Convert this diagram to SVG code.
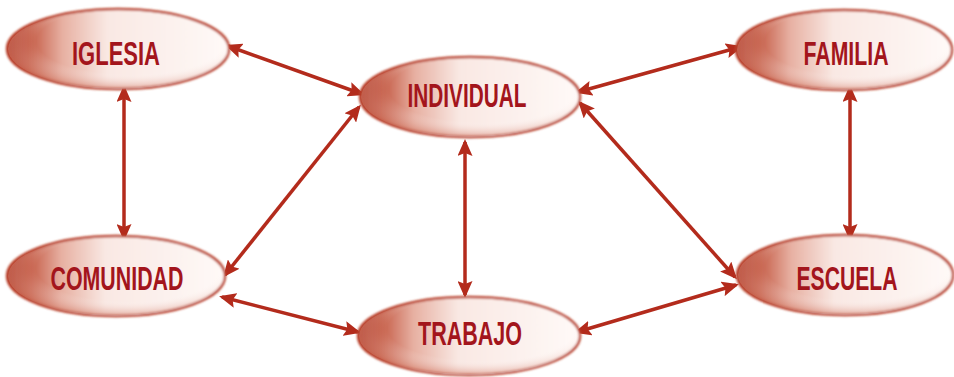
<svg xmlns="http://www.w3.org/2000/svg" width="954" height="377" viewBox="0 0 954 377">
  <defs>
    <linearGradient id="fillG" x1="0" y1="0" x2="1" y2="0">
      <stop offset="0" stop-color="#ad3320"/>
      <stop offset="0.1" stop-color="#c45a44"/>
      <stop offset="0.25" stop-color="#e7b0a2"/>
      <stop offset="0.45" stop-color="#f9e8e3"/>
      <stop offset="1" stop-color="#fffaf8"/>
    </linearGradient>
    <radialGradient id="shadeG" cx="0.55" cy="0.4" r="0.6">
      <stop offset="0.7" stop-color="#ffffff" stop-opacity="0"/>
      <stop offset="1" stop-color="#d27a66" stop-opacity="0.5"/>
    </radialGradient>
    <filter id="soft" x="-5%" y="-10%" width="110%" height="120%">
      <feGaussianBlur stdDeviation="0.8"/>
    </filter>
    <marker id="ah" viewBox="0 0 17 15" markerWidth="17" markerHeight="15" refX="14" refY="7.5" orient="auto-start-reverse" markerUnits="userSpaceOnUse">
      <path d="M0,0 L17,7.5 L0,15 L3,7.5 z" fill="#b32b1c"/>
    </marker>
  </defs>
  <style>
    .oval { fill: url(#fillG); stroke: #b9412c; stroke-width: 2.5; filter: url(#soft); }
    .shade { fill: url(#shadeG); stroke: none; }
    .lbl { font-family: "Liberation Sans", Arial, sans-serif; font-weight: bold; font-size: 33px; fill: #a3151c; text-anchor: middle; }
    .con { stroke: #b32b1c; stroke-width: 3.5; fill: none; marker-start: url(#ah); marker-end: url(#ah); }
  </style>
  <rect width="954" height="377" fill="#ffffff"/>

  <g id="connectors">
    <line class="con" x1="228" y1="46" x2="362" y2="94"/>
    <line class="con" x1="578" y1="92" x2="740" y2="47"/>
    <line class="con" x1="124" y1="88" x2="124" y2="238"/>
    <line class="con" x1="850" y1="88" x2="850" y2="238"/>
    <line class="con" x1="359" y1="107" x2="225" y2="275"/>
    <line class="con" x1="580" y1="103" x2="735" y2="277"/>
    <line class="con" x1="465" y1="142" x2="465" y2="295"/>
    <line class="con" x1="222" y1="297" x2="358" y2="332"/>
    <line class="con" x1="577" y1="332" x2="736" y2="285"/>
  </g>

  <g id="iglesia">
    <ellipse class="oval" cx="118" cy="49" rx="111" ry="40"/>
    <ellipse class="shade" cx="118" cy="49" rx="110" ry="39"/>
    <text class="lbl" x="116" y="65" textLength="88" lengthAdjust="spacingAndGlyphs">IGLESIA</text>
  </g>
  <g id="individual">
    <ellipse class="oval" cx="470" cy="97" rx="110" ry="40"/>
    <ellipse class="shade" cx="470" cy="97" rx="109" ry="39"/>
    <text class="lbl" x="467" y="107" textLength="119" lengthAdjust="spacingAndGlyphs">INDIVIDUAL</text>
  </g>
  <g id="familia">
    <ellipse class="oval" cx="844" cy="50" rx="108" ry="40"/>
    <ellipse class="shade" cx="844" cy="50" rx="107" ry="39"/>
    <text class="lbl" x="846" y="65" textLength="85" lengthAdjust="spacingAndGlyphs">FAMILIA</text>
  </g>
  <g id="comunidad">
    <ellipse class="oval" cx="116" cy="276" rx="109" ry="40"/>
    <ellipse class="shade" cx="116" cy="276" rx="108" ry="39"/>
    <text class="lbl" x="117" y="290" textLength="133" lengthAdjust="spacingAndGlyphs">COMUNIDAD</text>
  </g>
  <g id="escuela">
    <ellipse class="oval" cx="845" cy="275" rx="108" ry="40"/>
    <ellipse class="shade" cx="845" cy="275" rx="107" ry="39"/>
    <text class="lbl" x="847" y="290" textLength="101" lengthAdjust="spacingAndGlyphs">ESCUELA</text>
  </g>
  <g id="trabajo">
    <ellipse class="oval" cx="469" cy="336" rx="111" ry="39"/>
    <ellipse class="shade" cx="469" cy="336" rx="110" ry="38"/>
    <text class="lbl" x="470" y="345" textLength="104" lengthAdjust="spacingAndGlyphs">TRABAJO</text>
  </g>
</svg>
